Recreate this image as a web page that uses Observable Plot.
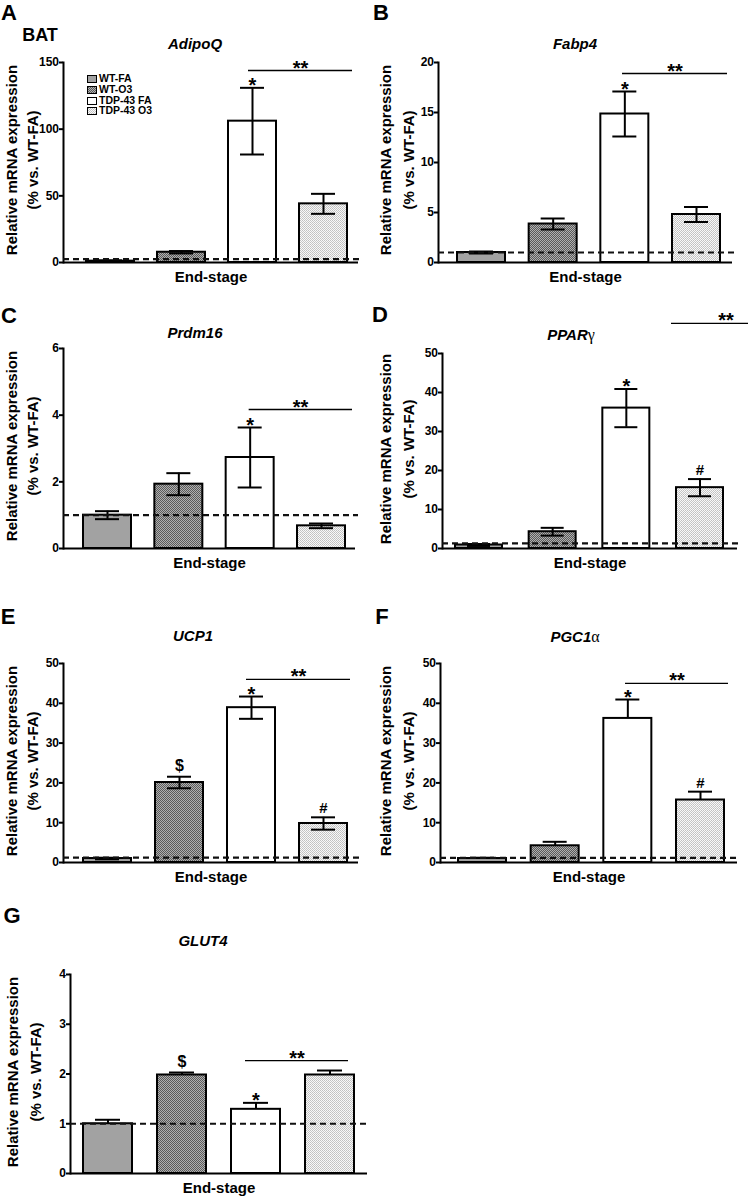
<!DOCTYPE html>
<html><head><meta charset="utf-8">
<script src="https://cdn.jsdelivr.net/npm/d3@7"></script>
<script src="https://cdn.jsdelivr.net/npm/@observablehq/plot@0.6"></script>
<style>
body{margin:0;background:#fff;}
#root{position:relative;width:750px;height:1203px;overflow:hidden;font-family:"Liberation Sans",Arial,sans-serif;color:#000;background:#fff;}
#root svg text{font-weight:bold;}
.t{position:absolute;transform:translate(-50%,-50%);white-space:nowrap;font-weight:bold;line-height:1;}
.r{transform:translate(-50%,-50%) rotate(-90deg);}
.panel{position:absolute;}
.greek{font-family:"Liberation Serif","DejaVu Serif",serif;font-style:normal;font-weight:normal;font-size:16px;}
.leg{position:absolute;font-size:10.5px;font-weight:bold;line-height:1;white-space:nowrap;}
.leg svg{vertical-align:middle;margin-right:2px;}
</style></head><body><div id="root"></div>
<script>
// ---------- data ----------
const groups = ["WT-FA", "WT-O3", "TDP-43 FA", "TDP-43 O3"];
const genes = ["AdipoQ", "Fabp4", "Prdm16", "PPAR|γ", "UCP1", "PGC1|α", "GLUT4"];
const panelLetters = ["A", "B", "C", "D", "E", "F", "G"];
const tissue = "BAT";
const xLabel = "End-stage";
const yLabelLines = ["Relative mRNA expression", "(% vs. WT-FA)"];

const meanAdipoQ = [1.0, 7.7, 106, 44];
const errUpAdipoQ = [0.6, 0.9, 25, 7.5];
const errDownAdipoQ = [0.6, 0.9, 25, 7.5];
const ticksAdipoQ = [0, 50, 100, 150];
const refAdipoQ = 2.5;
const symbolsAdipoQ = ["", "", "*", ""];
const bracketAdipoQ = 144;

const meanFabp4 = [1.0, 3.85, 14.85, 4.8];
const errUpFabp4 = [0.1, 0.55, 2.25, 0.75];
const errDownFabp4 = [0.1, 0.55, 2.25, 0.75];
const ticksFabp4 = [0, 5, 10, 15, 20];
const refFabp4 = 1.0;
const symbolsFabp4 = ["", "", "*", ""];
const bracketFabp4 = 18.9;

const meanPrdm16 = [1.0, 1.93, 2.73, 0.68];
const errUpPrdm16 = [0.12, 0.33, 0.9, 0.07];
const errDownPrdm16 = [0.12, 0.33, 0.9, 0.07];
const ticksPrdm16 = [0, 2, 4, 6];
const refPrdm16 = 1.0;
const symbolsPrdm16 = ["", "", "*", ""];
const bracketPrdm16 = 4.17;

const meanPPARg = [0.9, 4.3, 36.0, 15.6];
const errUpPPARg = [0.25, 1.0, 4.9, 2.2];
const errDownPPARg = [0.25, 1.0, 4.9, 2.2];
const ticksPPARg = [0, 10, 20, 30, 40, 50];
const refPPARg = 1.3;
const symbolsPPARg = ["", "", "*", "#"];
const bracketPPARg = 57.7;

const meanUCP1 = [1.0, 20.1, 38.9, 9.8];
const errUpUCP1 = [0.2, 1.45, 2.8, 1.55];
const errDownUCP1 = [0.2, 1.45, 2.8, 1.55];
const ticksUCP1 = [0, 10, 20, 30, 40, 50];
const refUCP1 = 1.2;
const symbolsUCP1 = ["", "$", "*", "#"];
const bracketUCP1 = 46.0;

const meanPGC1a = [1.0, 4.2, 36.2, 15.7];
const errUpPGC1a = [0.2, 1.0, 4.75, 2.1];
const errDownPGC1a = [0, 0, 0, 0];
const ticksPGC1a = [0, 10, 20, 30, 40, 50];
const refPGC1a = 1.17;
const symbolsPGC1a = ["", "", "*", "#"];
const bracketPGC1a = 45.0;

const meanGLUT4 = [1.0, 1.98, 1.29, 1.98];
const errUpGLUT4 = [0.08, 0.05, 0.13, 0.09];
const errDownGLUT4 = [0, 0, 0, 0];
const ticksGLUT4 = [0, 1, 2, 3, 4];
const refGLUT4 = 1.0;
const symbolsGLUT4 = ["", "$", "*", ""];
const bracketGLUT4 = 2.27;

const bracketLabel = "**";

const panelData = [
  {mean: meanAdipoQ, up: errUpAdipoQ, down: errDownAdipoQ, ticks: ticksAdipoQ, ref: refAdipoQ, sym: symbolsAdipoQ, bracket: bracketAdipoQ},
  {mean: meanFabp4, up: errUpFabp4, down: errDownFabp4, ticks: ticksFabp4, ref: refFabp4, sym: symbolsFabp4, bracket: bracketFabp4},
  {mean: meanPrdm16, up: errUpPrdm16, down: errDownPrdm16, ticks: ticksPrdm16, ref: refPrdm16, sym: symbolsPrdm16, bracket: bracketPrdm16},
  {mean: meanPPARg, up: errUpPPARg, down: errDownPPARg, ticks: ticksPPARg, ref: refPPARg, sym: symbolsPPARg, bracket: bracketPPARg},
  {mean: meanUCP1, up: errUpUCP1, down: errDownUCP1, ticks: ticksUCP1, ref: refUCP1, sym: symbolsUCP1, bracket: bracketUCP1},
  {mean: meanPGC1a, up: errUpPGC1a, down: errDownPGC1a, ticks: ticksPGC1a, ref: refPGC1a, sym: symbolsPGC1a, bracket: bracketPGC1a},
  {mean: meanGLUT4, up: errUpGLUT4, down: errDownGLUT4, ticks: ticksGLUT4, ref: refGLUT4, sym: symbolsGLUT4, bracket: bracketGLUT4}
];

// ---------- layout / style ----------
const FILL = {"WT-FA": "#a2a2a2", "WT-O3": "url(#patWTO3)", "TDP-43 FA": "#ffffff", "TDP-43 O3": "url(#patTDPO3)"};
const layouts = [
  {left: 0,   top: 0,   h: 300, ml: 63, mt: 62, mr: 17, mb: 38, xr: [86, 347], bw: 48, brFrom: 2, brL: 20,   brR: -5, sigDx: -23,   letter: [9, 13],   title: [195, 43],  ylx: [11, 32]},
  {left: 375, top: 0,   h: 300, ml: 63, mt: 62, mr: 18, mb: 38, xr: [82, 345], bw: 48, brFrom: 2, brL: 21.7, brR: -7, sigDx: -21.5, letter: [381, 13], title: [575, 43],  ylx: [385, 408]},
  {left: 0,   top: 300, h: 300, ml: 63, mt: 48, mr: 20, mb: 52, xr: [83, 345], bw: 48, brFrom: 2, brL: 23,   brR: -7, sigDx: -21,   letter: [9, 316],  title: [195, 332], ylx: [11, 32]},
  {left: 375, top: 300, h: 300, ml: 67, mt: 53, mr: 13, mb: 52, xr: [80, 348], bw: 47, brFrom: 3, brL: -5,   brR: -25, sigDx: 26,   letter: [380, 315], title: [571, 335], ylx: [385, 408]},
  {left: 0,   top: 590, h: 300, ml: 63, mt: 73, mr: 17, mb: 28, xr: [83, 347], bw: 48, brFrom: 2, brL: 19,   brR: -3, sigDx: -25,   letter: [8, 617],  title: [193, 635], ylx: [11, 32]},
  {left: 375, top: 590, h: 300, ml: 65, mt: 73, mr: 13, mb: 28, xr: [83, 349], bw: 48, brFrom: 2, brL: 21.7, brR: -4, sigDx: -23.5, letter: [382, 617], title: [575, 637], ylx: [385, 408]},
  {left: 0,   top: 880, h: 323, ml: 70, mt: 94, mr: 8,  mb: 30, xr: [83, 354], bw: 49, brFrom: 2, brL: 14,   brR: 6,  sigDx: -33,   letter: [12, 916], title: [203, 940], ylx: [12, 35]}
];

const root = document.getElementById("root");
root.insertAdjacentHTML("beforeend", `
<svg width="0" height="0" style="position:absolute;left:0;top:0">
 <defs>
  <pattern id="patWTO3" width="2" height="2" patternUnits="userSpaceOnUse">
    <rect width="2" height="2" fill="#b0b0b0"/>
    <rect width="1" height="1" fill="#5a5a5a"/>
    <rect x="1" y="1" width="1" height="1" fill="#5a5a5a"/>
  </pattern>
  <pattern id="patTDPO3" width="2" height="2" patternUnits="userSpaceOnUse">
    <rect width="2" height="2" fill="#f8f8f8"/>
    <rect width="1" height="1" fill="#c0c0c0"/>
    <rect x="1" y="1" width="1" height="1" fill="#c8c8c8"/>
  </pattern>
 </defs>
</svg>`);

function addText(html, x, y, style, cls = "t") {
  const el = document.createElement("div");
  el.className = cls;
  el.style.left = x + "px";
  el.style.top = y + "px";
  Object.assign(el.style, style);
  el.innerHTML = html;
  root.appendChild(el);
  return el;
}

panelData.forEach((d, k) => {
  const L = layouts[k];
  const rows = groups.map((g, i) => ({
    group: g, mean: d.mean[i], hi: d.mean[i] + d.up[i], lo: d.mean[i] - d.down[i], sym: d.sym[i]
  }));
  const brackets = [{from: groups[L.brFrom], to: groups[3], y: d.bracket, label: bracketLabel}];
  const span = L.xr[1] - L.xr[0];
  const step = (span - L.bw) / 3;
  const pad = 1 - L.bw / step;
  const ymax = d.ticks[d.ticks.length - 1];

  const plot = Plot.plot({
    width: 375, height: L.h,
    marginLeft: L.ml, marginTop: L.mt, marginRight: L.mr, marginBottom: L.mb,
    style: {background: "transparent", overflow: "visible", fontFamily: "'Liberation Sans', Arial, sans-serif", fontSize: "12px", fontWeight: "bold", color: "#000"},
    x: {domain: groups, range: L.xr, paddingInner: pad, paddingOuter: 0, round: false, axis: null},
    y: {domain: [0, ymax], axis: null},
    marks: [
      Plot.axisY({ticks: d.ticks, tickSize: 4, tickPadding: 0.5, strokeWidth: 2, label: null, fontSize: 12, fontWeight: "bold", tickFormat: (v) => String(v)}),
      Plot.frame({anchor: "left", strokeWidth: 2}),
      ...groups.map((g) => Plot.barY(rows.filter((r) => r.group === g), {x: "group", y: "mean", fill: FILL[g], stroke: "#000", strokeWidth: 2})),
      Plot.ruleX(rows.filter((r) => r.hi > r.lo), {x: "group", y1: "lo", y2: "hi", strokeWidth: 2}),
      Plot.tickY(rows.filter((r) => r.hi > r.mean), {x: "group", y: "hi", insetLeft: 12, insetRight: 12, strokeWidth: 2}),
      Plot.tickY(rows.filter((r) => r.lo < r.mean), {x: "group", y: "lo", insetLeft: 12, insetRight: 12, strokeWidth: 2}),
      Plot.ruleY([d.ref], {stroke: "#111", strokeWidth: 2.2, strokeDasharray: "6,4", insetRight: -3}),
      Plot.ruleY([0], {strokeWidth: 2}),
      Plot.text(rows.filter((r) => r.sym === "*"), {x: "group", y: "hi", text: "sym", lineAnchor: "bottom", dy: 4.5, fontSize: 20, fontWeight: "bold"}),
      Plot.text(rows.filter((r) => r.sym === "$"), {x: "group", y: "hi", text: "sym", lineAnchor: "bottom", dy: -6, fontSize: 16, fontWeight: "bold"}),
      Plot.text(rows.filter((r) => r.sym === "#"), {x: "group", y: "hi", text: "sym", lineAnchor: "bottom", dy: -4, fontSize: 15, fontWeight: "bold"}),
      Plot.ruleY(brackets, {x1: "from", x2: "to", y: "y", strokeWidth: 1.3, insetLeft: L.brL, insetRight: L.brR}),
      Plot.text(brackets, {x: "to", y: "y", text: "label", dx: L.sigDx, dy: 4, lineAnchor: "bottom", fontSize: 20, fontWeight: "bold"}),
      Plot.text([xLabel], {frameAnchor: "bottom", dy: 19.5, fontSize: 15, fontWeight: "bold"})
    ]
  });
  const wrap = document.createElement("div");
  wrap.className = "panel";
  wrap.style.left = L.left + "px";
  wrap.style.top = L.top + "px";
  wrap.appendChild(plot);
  root.appendChild(wrap);

  // texts
  addText(panelLetters[k], L.letter[0], L.letter[1], {fontSize: "22px"});
  const [gName, greek] = genes[k].split("|");
  addText(`<i>${gName}</i>${greek ? `<span class="greek">${greek}</span>` : ""}`, L.title[0], L.title[1], {fontSize: "15px"});
  const frameMid = L.top + (L.mt + (L.h - L.mb)) / 2 - 2;
  addText(yLabelLines[0], L.ylx[0], frameMid, {fontSize: "15px"}, "t r");
  addText(yLabelLines[1], L.ylx[1], frameMid, {fontSize: "15px"}, "t r");
});

addText(tissue, 40, 35, {fontSize: "18px"});

// legend (panel A)
const legendSwatch = (g) => `<svg width="10" height="8"><rect x="0.5" y="0.5" width="9" height="7" fill="${FILL[g]}" stroke="#000" stroke-width="1"/></svg>`;
const legendRowsY = [78, 88.5, 99.5, 110];
groups.forEach((g, i) => {
  const el = document.createElement("div");
  el.className = "leg";
  el.style.left = "87px";
  el.style.top = (legendRowsY[i] - 5) + "px";
  el.innerHTML = legendSwatch(g) + g;
  root.appendChild(el);
});
</script></body></html>
